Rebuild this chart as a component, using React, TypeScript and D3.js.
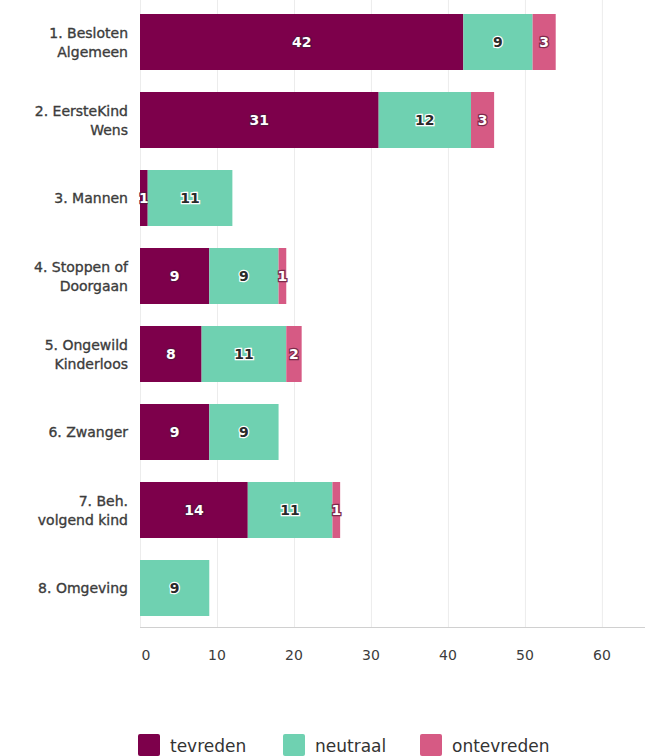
import { useEffect, useRef } from 'react';
import * as d3 from 'd3';

const categories = [
  ['1. Besloten', 'Algemeen'],
  ['2. EersteKind', 'Wens'],
  ['3. Mannen'],
  ['4. Stoppen of', 'Doorgaan'],
  ['5. Ongewild', 'Kinderloos'],
  ['6. Zwanger'],
  ['7. Beh.', 'volgend kind'],
  ['8. Omgeving'],
];
const tevreden = [42, 31, 1, 9, 8, 9, 14, 0];
const neutraal = [9, 12, 11, 9, 11, 9, 11, 9];
const ontevreden = [3, 3, 0, 1, 2, 0, 1, 0];
const seriesNames = ['tevreden', 'neutraal', 'ontevreden'];
const xTicks = [0, 10, 20, 30, 40, 50, 60];

const COLORS = ['#7d004b', '#6fd1b1', '#d65a84'];
const LABEL_FILL = ['#ffffff', '#2a2a2a', '#ffffff'];
const LABEL_STROKE = ['#5a1040', '#ffffff', '#7d2a4a'];

const W = 647, H = 756;
const MARGIN = { top: 3, left: 140, right: 2, bottom: 129 };
const FONT = '"DejaVu Sans", Verdana, sans-serif';

export default function App() {
  const ref = useRef<SVGSVGElement>(null);

  useEffect(() => {
    const svg = d3.select(ref.current);
    svg.selectAll('*').remove();

    const x = d3.scaleLinear().domain([0, 65.6]).range([MARGIN.left, W - MARGIN.right]);
    const y = d3
      .scaleBand<number>()
      .domain(d3.range(categories.length))
      .range([MARGIN.top, H - MARGIN.bottom])
      .paddingInner(22 / 78)
      .paddingOuter(11 / 78);

    const rows = categories.map((_, i) => ({ i, tevreden: tevreden[i], neutraal: neutraal[i], ontevreden: ontevreden[i] }));
    const stacked = d3.stack<any>().keys(seriesNames)(rows);

    const axisY = H - MARGIN.bottom;

    // gridlines
    svg.append('g')
      .selectAll('line')
      .data(xTicks)
      .join('line')
      .attr('x1', (d) => x(d) + 0.5)
      .attr('x2', (d) => x(d) + 0.5)
      .attr('y1', 0)
      .attr('y2', axisY)
      .attr('stroke', '#ececec')
      .attr('stroke-width', 1);

    // bars
    stacked.forEach((s, si) => {
      const g = svg.append('g');
      g.selectAll('rect')
        .data(s.filter((d) => d[1] - d[0] > 0))
        .join('rect')
        .attr('x', (d) => x(d[0]))
        .attr('width', (d) => x(d[1]) - x(d[0]))
        .attr('y', (d) => y(d.data.i)!)
        .attr('height', y.bandwidth())
        .attr('fill', COLORS[si]);

      g.selectAll('text')
        .data(s.filter((d) => d[1] - d[0] > 0))
        .join('text')
        .attr('x', (d) => (x(d[0]) + x(d[1])) / 2)
        .attr('y', (d) => y(d.data.i)! + y.bandwidth() / 2)
        .attr('dy', '0.36em')
        .attr('text-anchor', 'middle')
        .attr('font-family', FONT)
        .attr('font-size', 14)
        .attr('font-weight', 600)
        .attr('fill', LABEL_FILL[si])
        .attr('stroke', LABEL_STROKE[si])
        .attr('stroke-width', 2.5)
        .attr('paint-order', 'stroke')
        .text((d) => d[1] - d[0]);
    });

    // category labels
    const cat = svg.append('g');
    categories.forEach((lines, i) => {
      const cy = y(i)! + y.bandwidth() / 2;
      const t = cat.append('text')
        .attr('text-anchor', 'end')
        .attr('font-family', FONT)
        .attr('font-size', 14)
        .attr('fill', '#3c3c3c')
        .attr('stroke', '#3c3c3c')
        .attr('stroke-width', 0.35);
      lines.forEach((ln, li) => {
        t.append('tspan')
          .attr('x', 128)
          .attr('y', cy + (li - (lines.length - 1) / 2) * 19)
          .attr('dy', '0.36em')
          .text(ln);
      });
    });

    // x axis
    svg.append('line')
      .attr('x1', x(0))
      .attr('x2', W - 2)
      .attr('y1', axisY + 0.5)
      .attr('y2', axisY + 0.5)
      .attr('stroke', '#d0d0d0');
    svg.append('g')
      .selectAll('text')
      .data(xTicks)
      .join('text')
      .attr('x', (d) => (d === 0 ? x(d) + 6 : x(d)))
      .attr('y', axisY + 33)
      .attr('text-anchor', 'middle')
      .attr('font-family', FONT)
      .attr('font-size', 14)
      .attr('fill', '#3c3c3c')
      .text((d) => d);

    // legend
    const legendX = [138, 283, 420];
    const lg = svg.append('g');
    seriesNames.forEach((name, i) => {
      lg.append('rect')
        .attr('x', legendX[i])
        .attr('y', 734)
        .attr('width', 22)
        .attr('height', 22)
        .attr('rx', 2)
        .attr('fill', COLORS[i]);
      lg.append('text')
        .attr('x', legendX[i] + 32)
        .attr('y', 752)
        .attr('font-family', FONT)
        .attr('font-size', 17)
        .attr('fill', '#333')
        .text(name);
    });
  }, []);

  return (
    <svg
      ref={ref}
      width={W}
      height={H}
      style={{ position: 'absolute', left: 0, top: 0, background: '#fff' }}
    />
  );
}
